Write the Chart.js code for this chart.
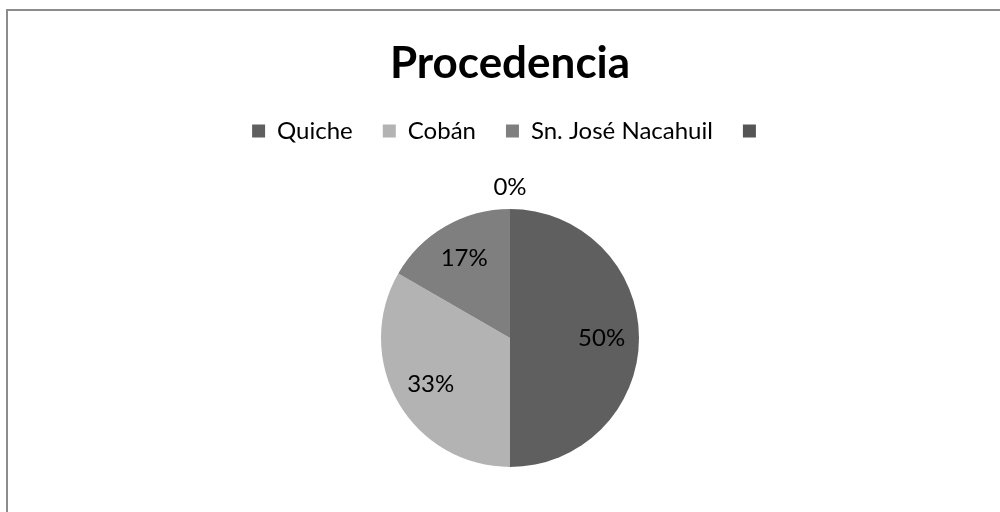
<!DOCTYPE html>
<html>
<head>
<meta charset="utf-8">
<script src="https://cdn.jsdelivr.net/npm/chart.js@4"></script>
<style>
  html, body { margin: 0; padding: 0; background: #fff; }
  #wrap { width: 1000px; height: 512px; position: relative; }
</style>
</head>
<body>
<div id="wrap"><canvas id="procChart" width="1000" height="512"></canvas></div>
<script>
var categories = ["Quiche", "Cobán", "Sn. José Nacahuil", ""];
var values = [3, 2, 1, 0];
var sliceColors = ['#5f5f5f', '#b3b3b3', '#7f7f7f', '#555555'];

// frame around the chart, like the spreadsheet chart box
var framePlugin = {
    id: 'frame',
    beforeDraw: function (chart) {
        var c = chart.ctx;
        c.save();
        c.fillStyle = '#fff';
        c.fillRect(0, 0, chart.width, chart.height);
        c.strokeStyle = '#8c8c8c';
        c.lineWidth = 2;
        c.strokeRect(7, 10, chart.width + 20, chart.height + 20);
        c.restore();
    }
};

// give the legend some extra room so the pie sits lower
var legendSpace = {
    id: 'legendSpace',
    beforeInit: function (chart) {
        var fit = chart.legend.fit;
        chart.legend.fit = function () {
            fit.bind(chart.legend)();
            this.height += 11;
        };
    }
};

// percentage labels
var pctLabels = {
    id: 'pctLabels',
    afterDatasetsDraw: function (chart) {
        var c = chart.ctx;
        var meta = chart.getDatasetMeta(0);
        var total = values.reduce(function (a, b) { return a + b; }, 0);
        c.save();
        c.font = '24px Lato, "Open Sans", sans-serif';
        c.fillStyle = '#000';
        c.textAlign = 'center';
        c.textBaseline = 'middle';
        meta.data.forEach(function (arc, i) {
            var p = arc.getProps(['x', 'y', 'startAngle', 'endAngle', 'outerRadius']);
            var pct = Math.round(values[i] / total * 100) + '%';
            var a = (p.startAngle + p.endAngle) / 2;
            var d = values[i] > 0 ? p.outerRadius * 0.71 : p.outerRadius + 22;
            c.fillText(pct, p.x + Math.cos(a) * d, p.y + Math.sin(a) * d);
        });
        c.restore();
    }
};

var ctx = document.getElementById('procChart').getContext('2d');
var chart = new Chart(ctx, {
    type: 'pie',
    data: {
        labels: categories,
        datasets: [{
            data: values,
            backgroundColor: sliceColors,
            borderWidth: 0,
            radius: 129
        }]
    },
    options: {
        responsive: false,
        animation: false,
        layout: { padding: { left: 20, top: 42, bottom: 0, right: 0 } },
        plugins: {
            title: {
                display: true,
                text: 'Procedencia',
                color: '#000',
                font: { family: 'Lato, "Open Sans", sans-serif', size: 44, weight: 'bold', lineHeight: 1.0 },
                padding: { top: 0, bottom: 3 }
            },
            legend: {
                position: 'top',
                labels: {
                    color: '#000',
                    font: { family: 'Lato, "Open Sans", sans-serif', size: 24 },
                    boxWidth: 13,
                    boxHeight: 13,
                    padding: 30
                }
            },
            tooltip: { enabled: false }
        }
    },
    plugins: [framePlugin, legendSpace, pctLabels]
});
</script>
</body>
</html>
